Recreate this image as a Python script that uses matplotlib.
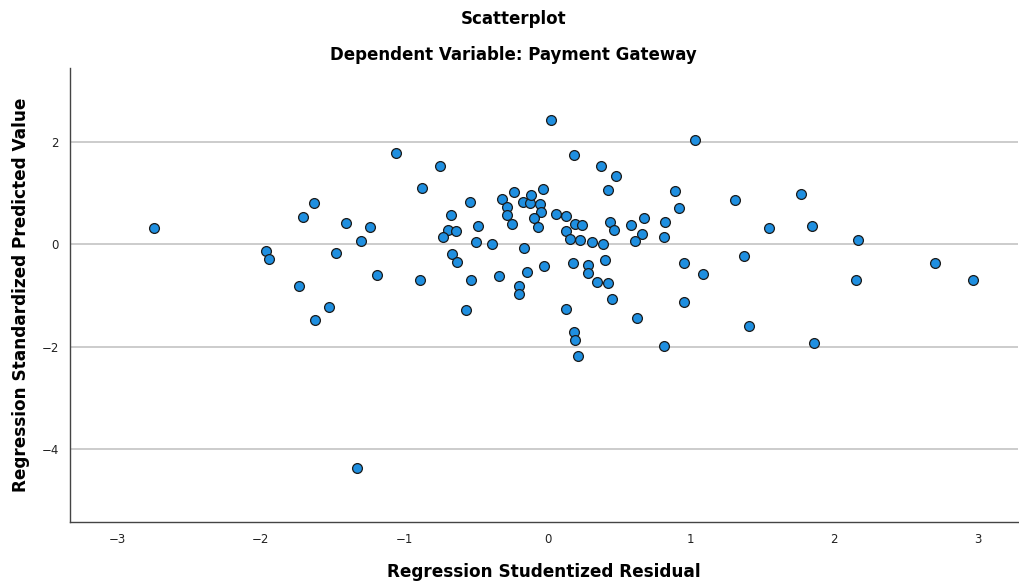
import matplotlib
matplotlib.use("Agg")
import matplotlib.pyplot as plt

# studentized residuals (x) and standardized predicted values (y)
residual = [
    -2.746, -1.967, -1.943, -1.706, -1.736, -1.627, -1.527, -1.620, -1.476, -1.406,
    -1.304, -1.241, -1.190, -1.057, -0.878, -0.750, -0.890, -0.541, -0.673, -0.697,
    -0.641, -0.727, -0.664, -0.632, -0.485, -0.501, -0.387, -0.532, -0.567, -0.341,
    -0.318, -0.280, -0.283, -0.250, -0.231, -0.173, -0.120, -0.113, -0.050, -0.048,
    -0.094, -0.068, -0.033, -0.162, -0.145, -0.197, -0.197, -0.024, 0.027, 0.187,
    0.371, 0.478, 0.425, 0.059, 0.129, 0.192, 0.243, 0.127, 0.155, 0.225,
    0.308, 0.385, 0.436, 0.464, 0.178, 0.285, 0.285, 0.399, 0.343, 0.422,
    0.448, 0.129, 0.185, 0.192, 0.210, 1.027, 0.583, 0.676, 0.657, 0.613,
    0.820, 0.811, 0.888, 0.915, 0.955, 1.085, 0.955, 0.627, 0.811, 1.311,
    1.544, 1.373, 1.406, 1.769, 1.848, 1.862, 2.169, 2.155, 2.702, 2.967,
    -1.331,
]
predicted = [
    0.32, -0.12, -0.29, 0.54, -0.82, 0.81, -1.22, -1.48, -0.16, 0.42,
    0.075, 0.35, -0.59, 1.79, 1.11, 1.53, -0.70, 0.83, 0.58, 0.29,
    0.26, 0.15, -0.18, -0.35, 0.36, 0.055, 0.01, -0.70, -1.28, -0.61,
    0.90, 0.74, 0.58, 0.41, 1.02, 0.84, 0.82, 0.97, 0.79, 0.64,
    0.51, 0.34, 1.09, -0.075, -0.54, -0.82, -0.98, -0.43, 2.44, 1.76,
    1.54, 1.34, 1.07, 0.60, 0.56, 0.40, 0.38, 0.27, 0.11, 0.08,
    0.04, 0.01, 0.45, 0.28, -0.36, -0.40, -0.55, -0.30, -0.74, -0.76,
    -1.07, -1.26, -1.72, -1.88, -2.18, 2.04, 0.39, 0.51, 0.21, 0.075,
    0.45, 0.15, 1.04, 0.72, -0.36, -0.57, -1.12, -1.45, -1.98, 0.87,
    0.32, -0.22, -1.60, 0.98, 0.36, -1.93, 0.08, -0.70, -0.37, -0.70,
    -4.38,
]
x_ticks = [-3, -2, -1, 0, 1, 2, 3]
y_ticks = [-4, -2, 0, 2]

fig = plt.figure(figsize=(10.19, 5.83), dpi=100)
ax = fig.add_axes([0.0687, 0.1046, 0.9303, 0.7788])

ax.scatter(residual, predicted, s=50, c="#1f8fe0", edgecolors="#1a1a1a",
           linewidths=0.9, zorder=3)

ax.set_xlim(-3.332, 3.283)
ax.set_ylim(-5.44, 3.46)
ax.set_xticks(x_ticks)
ax.set_yticks(y_ticks)
ax.tick_params(length=0, labelsize=8.5, colors="#222222", pad=8)
ax.grid(axis="y", color="#c4c4c4", linewidth=1.2, zorder=0)
ax.set_axisbelow(True)
for side in ("top", "right"):
    ax.spines[side].set_visible(False)
for side in ("left", "bottom"):
    ax.spines[side].set_color("#444444")
    ax.spines[side].set_linewidth(1.0)

ax.set_xlabel("Regression Studentized Residual", fontsize=12.2, fontweight="bold",
              labelpad=12)
ax.set_ylabel("Regression Standardized Predicted Value", fontsize=12.2,
              fontweight="bold", labelpad=8)

fig.text(0.504, 0.968, "Scatterplot", ha="center", va="center",
         fontsize=12, fontweight="bold")
fig.text(0.504, 0.905, "Dependent Variable: Payment Gateway", ha="center",
         va="center", fontsize=12, fontweight="bold")

fig.savefig("out.png", dpi=100)
